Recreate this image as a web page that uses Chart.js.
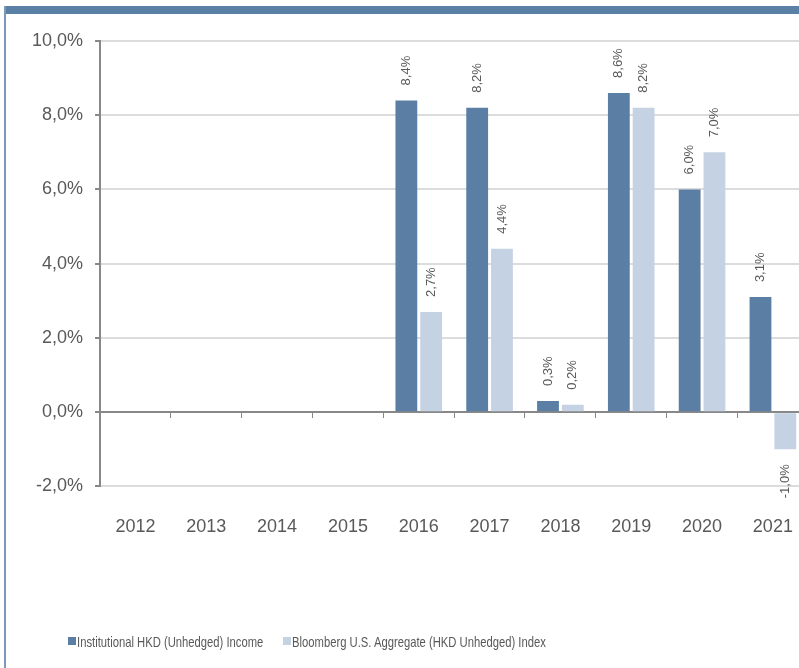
<!DOCTYPE html>
<html>
<head>
<meta charset="utf-8">
<script src="https://cdn.jsdelivr.net/npm/chart.js@4.4.1/dist/chart.umd.min.js"></script>
<style>
  html, body { margin: 0; padding: 0; background: #fff; overflow: hidden; }
  #topbar { position: absolute; left: 5px; top: 6px; width: 794px; height: 8px; background: #5b80a5; }
  #leftline { position: absolute; left: 4px; top: 6px; width: 2px; height: 662px; background: #7b98b8; }
  #wrap { position: absolute; left: 0; top: 0; width: 823px; height: 668px; }
  .lg-box { position: absolute; top: 637px; width: 8px; height: 8px; }
  .lg-text { position: absolute; top: 633px; font-family: "Liberation Sans", Arial, sans-serif; font-size: 15px; line-height: 18px; color: #595959; white-space: nowrap; transform-origin: 0 50%; transform: scaleX(0.75); }
</style>
</head>
<body>
<div id="topbar"></div>
<div id="leftline"></div>
<div id="wrap"><canvas id="chart" width="823" height="668"></canvas></div>
<div id="legend"></div>
<script>
// Dados do gráfico
const years = ['2012', '2013', '2014', '2015', '2016', '2017', '2018', '2019', '2020', '2021'];
const fundValues = [null, null, null, null, 8.4, 8.2, 0.3, 8.6, 6.0, 3.1];
const indexValues = [null, null, null, null, 2.7, 4.4, 0.2, 8.2, 7.0, -1.0];
const seriesNames = ['Institutional HKD (Unhedged) Income', 'Bloomberg U.S. Aggregate (HKD Unhedged) Index'];
const seriesColors = ['#5b7fa4', '#c4d2e3'];

const gray = '#595959';

function pct(v) {
    return v.toFixed(1).replace('.', ',') + '%';
}

// Rótulos verticais acima / abaixo das barras
const barLabels = {
    id: 'barLabels',
    afterDatasetsDraw(chart) {
        const ctx = chart.ctx;
        ctx.save();
        ctx.font = '13px "Liberation Sans", Arial, sans-serif';
        ctx.fillStyle = gray;
        ctx.textBaseline = 'middle';
        chart.data.datasets.forEach((ds, i) => {
            chart.getDatasetMeta(i).data.forEach((bar, j) => {
                const v = ds.data[j];
                if (v === null) return;
                ctx.save();
                ctx.translate(bar.x, v >= 0 ? bar.y - 15 : bar.y + 15);
                ctx.rotate(-Math.PI / 2);
                ctx.textAlign = v >= 0 ? 'left' : 'right';
                ctx.fillText(pct(v), 0, 0);
                ctx.restore();
            });
        });
        ctx.restore();
    }
};

new Chart(document.getElementById('chart'), {
    type: 'bar',
    data: {
        labels: years,
        datasets: [
            { label: seriesNames[0], data: fundValues, backgroundColor: seriesColors[0] },
            { label: seriesNames[1], data: indexValues, backgroundColor: seriesColors[1] }
        ]
    },
    options: {
        responsive: false,
        animation: false,
        datasets: { bar: { categoryPercentage: 0.7, barPercentage: 0.88 } },
        layout: { padding: { left: 20, top: 41, right: 2, bottom: 100 } },
        plugins: { legend: { display: false }, tooltip: { enabled: false } },
        scales: {
            x: {
                grid: { display: false, drawTicks: false },
                border: { display: false },
                ticks: { color: gray, padding: 30, font: { size: 18, family: '"Liberation Sans", Arial, sans-serif' } }
            },
            x2: {
                type: 'category',
                labels: years,
                position: { y: 0 },
                grid: { display: true, drawOnChartArea: false, drawTicks: true, tickLength: 5, tickColor: '#888', offset: true },
                border: { display: true, color: '#888', width: 2 },
                ticks: { display: false }
            },
            y: {
                min: -2,
                max: 10,
                ticks: {
                    stepSize: 2,
                    color: gray,
                    padding: 12,
                    font: { size: 18, family: '"Liberation Sans", Arial, sans-serif' },
                    callback: v => pct(v)
                },
                grid: { color: '#dcdcdc', lineWidth: 2, tickColor: '#888', tickLength: 5 },
                border: { display: true, color: '#888', width: 2 }
            }
        }
    },
    plugins: [barLabels]
});

// Legenda (texto estreito como no original)
const legend = document.getElementById('legend');
const legendX = [68, 283];
seriesNames.forEach((name, i) => {
    const box = document.createElement('div');
    box.className = 'lg-box';
    box.style.left = legendX[i] + 'px';
    box.style.background = seriesColors[i];
    legend.appendChild(box);
    const txt = document.createElement('div');
    txt.className = 'lg-text';
    txt.style.left = (legendX[i] + 9) + 'px';
    txt.textContent = name;
    legend.appendChild(txt);
});
</script>
</body>
</html>
